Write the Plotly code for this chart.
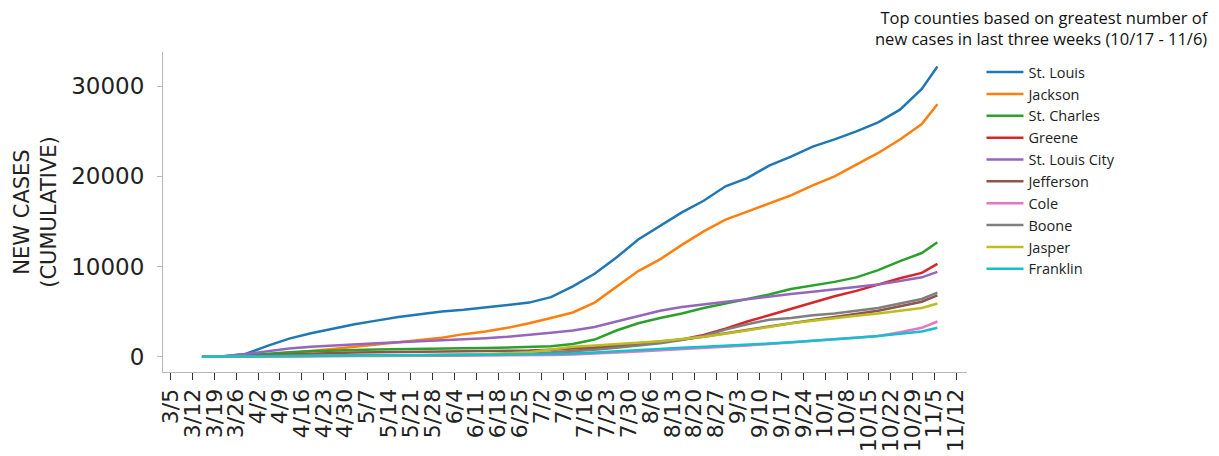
import plotly.graph_objects as go

dates = ["2020-03-15", "2020-03-22", "2020-03-29", "2020-04-05", "2020-04-12", "2020-04-19",
         "2020-04-26", "2020-05-03", "2020-05-10", "2020-05-17", "2020-05-24", "2020-05-31",
         "2020-06-07", "2020-06-14", "2020-06-21", "2020-06-28", "2020-07-05", "2020-07-12",
         "2020-07-19", "2020-07-26", "2020-08-02", "2020-08-09", "2020-08-16", "2020-08-23",
         "2020-08-30", "2020-09-06", "2020-09-13", "2020-09-20", "2020-09-27", "2020-10-04",
         "2020-10-11", "2020-10-18", "2020-10-25", "2020-11-01", "2020-11-06"]

st_louis = [0, 50, 300, 1200, 2000, 2600, 3100, 3600, 4000, 4400, 4700, 5000, 5200, 5450, 5700,
            6000, 6600, 7800, 9200, 11000, 13000, 14500, 16000, 17300, 18900, 19800, 21200,
            22200, 23300, 24100, 25000, 26000, 27400, 29700, 32200]
jackson = [0, 0, 50, 200, 400, 600, 850, 1100, 1350, 1600, 1800, 2100, 2500, 2800, 3200, 3700,
           4300, 4900, 6000, 7800, 9500, 10800, 12400, 13900, 15200, 16100, 17000, 17900, 19000,
           20000, 21300, 22600, 24100, 25800, 28000]
st_charles = [0, 20, 150, 350, 500, 600, 700, 750, 800, 850, 880, 900, 930, 960, 1000, 1050,
              1150, 1400, 1900, 2900, 3700, 4300, 4800, 5400, 5900, 6400, 6900, 7500, 7900, 8300,
              8800, 9600, 10600, 11500, 12700]
greene = [0, 5, 20, 50, 80, 100, 110, 120, 130, 135, 140, 150, 170, 190, 210, 250, 400, 600,
          900, 1200, 1400, 1600, 1900, 2400, 3100, 3900, 4600, 5300, 6000, 6700, 7300, 8000,
          8700, 9300, 10300]
st_louis_city = [0, 50, 300, 600, 900, 1100, 1250, 1400, 1500, 1600, 1700, 1800, 1950, 2050,
                 2200, 2400, 2650, 2900, 3300, 3900, 4500, 5100, 5500, 5800, 6100, 6400, 6700,
                 6950, 7200, 7450, 7700, 8000, 8400, 8800, 9400]
jefferson = [0, 10, 50, 150, 250, 350, 400, 450, 480, 500, 520, 540, 560, 590, 620, 680, 780,
             900, 1050, 1250, 1450, 1650, 1900, 2200, 2600, 3000, 3350, 3700, 4050, 4400, 4750,
             5100, 5600, 6100, 6800]
cole = [0, 0, 10, 30, 45, 60, 70, 80, 85, 90, 95, 100, 110, 120, 130, 150, 190, 250, 330, 450,
        580, 700, 820, 950, 1100, 1250, 1420, 1600, 1750, 1900, 2100, 2300, 2700, 3200, 3900]
boone = [0, 10, 40, 70, 90, 100, 110, 120, 130, 140, 150, 170, 190, 220, 260, 350, 450, 600,
         780, 1000, 1250, 1500, 1850, 2300, 3000, 3600, 4100, 4300, 4600, 4800, 5100, 5400,
         5900, 6400, 7100]
jasper = [0, 0, 10, 30, 50, 70, 85, 100, 110, 120, 140, 170, 210, 270, 360, 500, 800, 1100,
          1250, 1400, 1550, 1700, 1950, 2200, 2550, 2900, 3300, 3700, 4000, 4300, 4550, 4800,
          5100, 5400, 5900]
franklin = [0, 20, 60, 90, 120, 150, 160, 170, 180, 190, 195, 200, 210, 220, 235, 250, 290, 350,
            450, 600, 750, 900, 1000, 1100, 1200, 1300, 1450, 1600, 1750, 1900, 2100, 2300, 2550,
            2800, 3200]

counties = ["St. Louis", "Jackson", "St. Charles", "Greene", "St. Louis City", "Jefferson",
            "Cole", "Boone", "Jasper", "Franklin"]
series = [st_louis, jackson, st_charles, greene, st_louis_city, jefferson, cole, boone, jasper,
          franklin]
colors = ["#1f77b4", "#ff7f0e", "#2ca02c", "#d62728", "#9467bd", "#8c564b", "#e377c2",
          "#7f7f7f", "#bcbd22", "#17becf"]

tick_dates = ["2020-03-05", "2020-03-12", "2020-03-19", "2020-03-26", "2020-04-02", "2020-04-09",
              "2020-04-16", "2020-04-23", "2020-04-30", "2020-05-07", "2020-05-14", "2020-05-21",
              "2020-05-28", "2020-06-04", "2020-06-11", "2020-06-18", "2020-06-25", "2020-07-02",
              "2020-07-09", "2020-07-16", "2020-07-23", "2020-07-30", "2020-08-06", "2020-08-13",
              "2020-08-20", "2020-08-27", "2020-09-03", "2020-09-10", "2020-09-17", "2020-09-24",
              "2020-10-01", "2020-10-08", "2020-10-15", "2020-10-22", "2020-10-29", "2020-11-05",
              "2020-11-12"]
tick_labels = ["3/5", "3/12", "3/19", "3/26", "4/2", "4/9", "4/16", "4/23", "4/30", "5/7",
               "5/14", "5/21", "5/28", "6/4", "6/11", "6/18", "6/25", "7/2", "7/9", "7/16",
               "7/23", "7/30", "8/6", "8/13", "8/20", "8/27", "9/3", "9/10", "9/17", "9/24",
               "10/1", "10/8", "10/15", "10/22", "10/29", "11/5", "11/12"]
y_tick_vals = [0, 10000, 20000, 30000]
y_tick_labels = ["0", "10000", "20000", "30000"]

fig = go.Figure()
for name, vals, col in zip(counties, series, colors):
    fig.add_trace(go.Scatter(x=dates, y=vals, mode="lines", name=name,
                             line=dict(color=col, width=2.5)))

fig.update_layout(
    width=1219, height=456,
    paper_bgcolor="white", plot_bgcolor="white",
    margin=dict(l=163, r=252, t=52, b=84),
    font=dict(family="DejaVu Sans", color="#222222"),
    xaxis=dict(
        type="date", automargin=False,
        range=["2020-03-02 12:00", "2020-11-15 12:00"],
        tickmode="array", tickvals=tick_dates, ticktext=tick_labels,
        tickangle=-90, tickfont=dict(family="DejaVu Sans", size=22, color="#222222"),
        showline=True, linecolor="#b8b8b8", linewidth=1,
        ticks="outside", ticklen=7, tickcolor="#333333", tickwidth=1,
        showgrid=False, zeroline=False,
    ),
    yaxis=dict(
        automargin=False,
        range=[-1700, 33800],
        tickmode="array", tickvals=y_tick_vals, ticktext=y_tick_labels,
        tickfont=dict(family="DejaVu Sans", size=23, color="#222222"),
        showline=True, linecolor="#b8b8b8", linewidth=1,
        ticks="outside", ticklen=5, tickcolor="#bbbbbb", tickwidth=1,
        ticklabelstandoff=8,
        showgrid=False, zeroline=False,
        title=dict(text="NEW CASES<br>(CUMULATIVE)",
                   font=dict(family="DejaVu Sans", size=21, color="#222222"),
                   standoff=8),
    ),
    legend=dict(
        x=1.018, y=0.987, xanchor="left", yanchor="top",
        font=dict(family="Open Sans", size=14.5, color="#222222"),
        bgcolor="rgba(0,0,0,0)", borderwidth=0,
        itemwidth=37, maxheight=400,
    ),
    annotations=[dict(
        text="Top counties based on greatest number of<br>new cases in last three weeks (10/17 - 11/6)",
        xref="paper", yref="paper", x=1.0 + (1211 - 967) / 804, y=1.0 + (52 - 4) / 320,
        xanchor="right", yanchor="top", align="right", showarrow=False,
        font=dict(family="Open Sans", size=16.5, color="#111111"),
    )],
)

fig.write_html("out.html", config={"displayModeBar": False},
               post_script="document.body.style.margin='0';")
